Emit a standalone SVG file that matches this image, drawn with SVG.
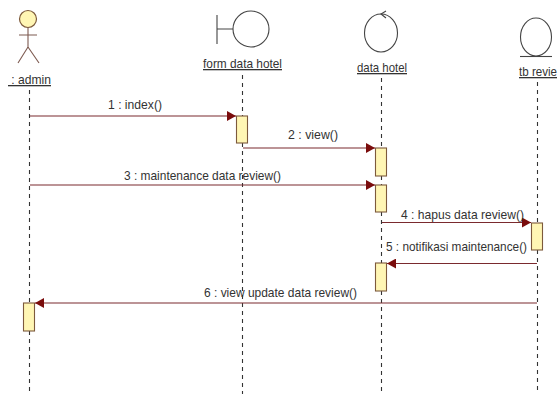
<svg xmlns="http://www.w3.org/2000/svg" width="560" height="394" viewBox="0 0 560 394">
<style>
text{font-family:"Liberation Sans",Arial,sans-serif;font-size:13px;fill:#333}
.u{text-decoration:underline}
.sym{fill:none;stroke:#444;stroke-width:1.1}
.act{fill:#fff6b4;stroke:#7d5a3c;stroke-width:1.1}
.life{stroke:#333;stroke-width:1.1;stroke-dasharray:4 4;fill:none}
.msg{stroke:#7a2a2e;stroke-width:1.2;fill:none;marker-end:url(#a)}
</style>
<defs><marker id="a" markerUnits="userSpaceOnUse" markerWidth="10" markerHeight="10" refX="9" refY="5" orient="auto"><path d="M0 0L9 5L0 10Z" fill="#7a0c0c"/></marker></defs>
<rect width="560" height="394" fill="#fff"/>
<g id="admin">
<circle cx="28" cy="19" r="8.500" fill="#fff6b4" stroke="#7d5a3c" stroke-width="1.200"/>
<path d="M28 27.500V47M19 35H37M28 47L18 63M28 47L39 63" fill="none" stroke="#7d5a50" stroke-width="1.100"/>
<text class="u" x="8" y="84" textLength="43" lengthAdjust="spacingAndGlyphs">&#160;: admin</text>
<path class="life" d="M29.500 90V303M29.500 331V394"/>
<rect class="act" x="23.500" y="303" width="11" height="28"/>
</g>
<g id="form-data-hotel">
<circle cx="251" cy="29" r="18" class="sym"/>
<path class="sym" d="M217 15V44M217 29H233"/>
<text class="u" x="203" y="68" textLength="79" lengthAdjust="spacingAndGlyphs">form data hotel</text>
<path class="life" d="M242.500 75V116M242.500 143V394"/>
<rect class="act" x="236.500" y="116" width="11" height="27"/>
</g>
<g id="data-hotel">
<ellipse cx="381" cy="33" rx="16.500" ry="19" class="sym"/>
<path class="sym" d="M386 11L381 14L386 18"/>
<text class="u" x="357" y="72" textLength="50" lengthAdjust="spacingAndGlyphs">data hotel</text>
<path class="life" d="M381.500 78V148M381.500 176V185M381.500 212V263M381.500 291V394"/>
<rect class="act" x="375.500" y="148" width="11" height="28"/>
<rect class="act" x="375.500" y="185" width="11" height="27"/>
<rect class="act" x="375.500" y="263" width="11" height="28"/>
</g>
<g id="tb-review">
<ellipse cx="536" cy="37" rx="15.500" ry="19" class="sym"/>
<path class="sym" d="M520 56.500H552"/>
<text class="u" x="519" y="76" textLength="38" lengthAdjust="spacingAndGlyphs">tb revie</text>
<path class="life" d="M537.500 82V223M537.500 250V394"/>
<rect class="act" x="531.500" y="223" width="11" height="27"/>
</g>
<g id="connectors">
<path class="msg" d="M30 116H236"/>
<path class="msg" d="M243 148H375"/>
<path class="msg" d="M30 185H375"/>
<path class="msg" d="M382 222.500H531"/>
<path class="msg" d="M537 263.500H387"/>
<path class="msg" d="M537 303H35"/>
<text x="108" y="109" textLength="54" lengthAdjust="spacingAndGlyphs">1 : index()</text>
<text x="288" y="139" textLength="50" lengthAdjust="spacingAndGlyphs">2 : view()</text>
<text x="124" y="180" textLength="157" lengthAdjust="spacingAndGlyphs">3 : maintenance data review()</text>
<text x="401" y="219" textLength="123" lengthAdjust="spacingAndGlyphs">4 : hapus data review()</text>
<text x="386" y="251" textLength="141" lengthAdjust="spacingAndGlyphs">5 : notifikasi maintenance()</text>
<text x="204" y="297" textLength="153" lengthAdjust="spacingAndGlyphs">6 : view update data review()</text>
</g>
</svg>
